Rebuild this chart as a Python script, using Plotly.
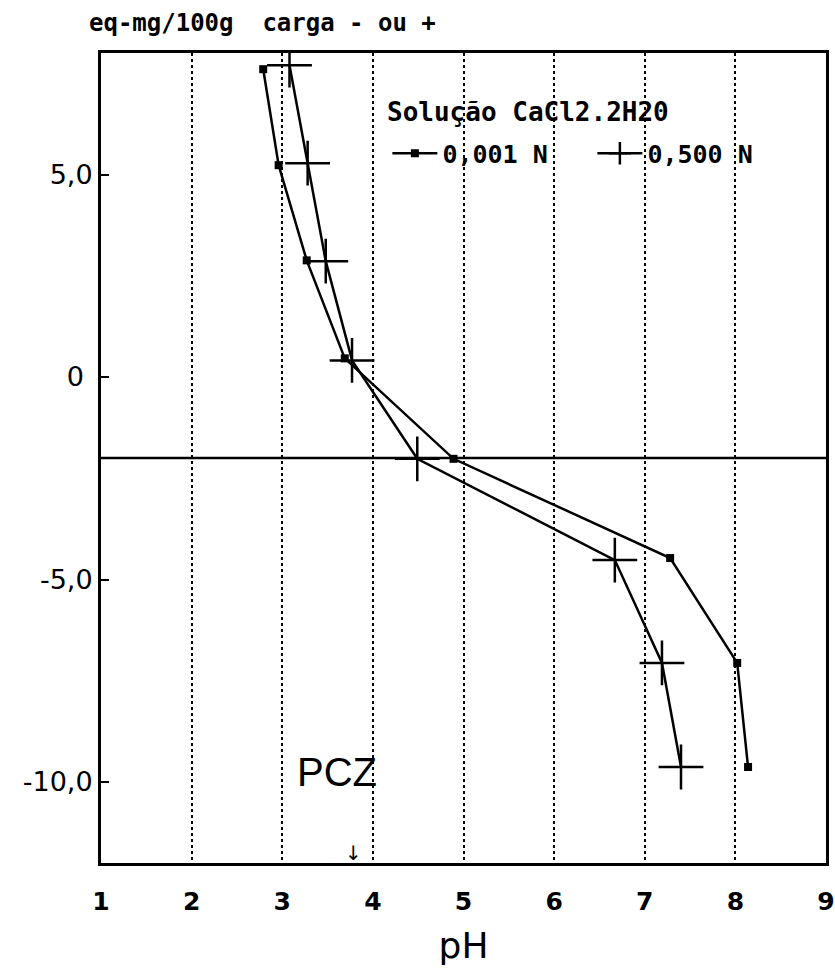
import plotly.graph_objects as go

# ---- data ----
ph_001 = [2.79, 2.96, 3.27, 3.69, 4.89, 7.28, 8.02, 8.14]
carga_001 = [7.60, 5.23, 2.88, 0.46, -2.02, -4.47, -7.06, -9.63]

ph_500 = [3.08, 3.28, 3.48, 3.77, 4.49, 6.67, 7.19, 7.40]
carga_500 = [7.70, 5.28, 2.86, 0.41, -2.02, -4.52, -7.06, -9.63]

series_names = ["0,001 N", "0,500 N"]
legend_title = "Solução CaCl2.2H20"
y_title = "eq-mg/100g  carga - ou +"
x_title = "pH"

x_ticks = [1, 2, 3, 4, 5, 6, 7, 8, 9]
y_tickvals = [5, 0, -5, -10]
y_ticktext = ["5,0", "0\u00a0", "-5,0", "-10,0"]
ref_line = -2
pcz_x, pcz_label_y = 3.60, -9.75
pcz_arrow_x, pcz_arrow_y = 3.79, -11.75

fig = go.Figure()
fig.add_trace(go.Scatter(
    x=ph_001, y=carga_001, mode="lines+markers", name=series_names[0],
    line=dict(color="black", width=2.5),
    marker=dict(symbol="square", size=8, color="black"),
))
fig.add_trace(go.Scatter(
    x=ph_500, y=carga_500, mode="lines+markers", name=series_names[1],
    line=dict(color="black", width=2.5),
    marker=dict(symbol="cross-thin", size=32, color="black",
                line=dict(color="black", width=2.5)),
))

fig.add_hline(y=ref_line, line=dict(color="black", width=2.5))

fig.add_annotation(x=pcz_x, y=pcz_label_y, text="PCZ", showarrow=False,
                   font=dict(family="Liberation Sans", size=40, color="black"))
fig.add_annotation(x=pcz_arrow_x, y=pcz_arrow_y, text="↓", showarrow=False,
                   font=dict(family="DejaVu Sans", size=20, color="black"))
fig.add_annotation(x=-0.02, y=1.0, xref="paper", yref="paper", yanchor="bottom",
                   xanchor="left", yshift=14, text=y_title, showarrow=False,
                   font=dict(family="DejaVu Sans Mono", size=24, color="black",
                             weight="bold"))
fig.add_annotation(x=0.392, y=0.927, xref="paper", yref="paper", yanchor="middle",
                   xanchor="left", text=legend_title, showarrow=False,
                   font=dict(family="DejaVu Sans Mono", size=26, color="black",
                             weight="bold"))

fig.update_xaxes(
    range=[1, 9], tickvals=x_ticks, showgrid=True, griddash="dot",
    gridcolor="black", gridwidth=1.5, showline=True, linecolor="black",
    linewidth=3, mirror=True, ticks="", zeroline=False,
    ticklabelstandoff=14,
    tickfont=dict(family="DejaVu Sans", size=25, color="black", weight="bold"),
    title=dict(text=x_title, standoff=18,
               font=dict(family="DejaVu Sans", size=36, color="black")),
)
fig.update_yaxes(
    range=[-12, 8], tickvals=y_tickvals, ticktext=y_ticktext, showgrid=False,
    showline=True, linecolor="black", linewidth=3, mirror=True,
    ticks="inside", ticklen=8, tickwidth=2, tickcolor="black", zeroline=False,
    tickfont=dict(family="DejaVu Sans", size=27, color="black"),
)

fig.update_layout(
    width=835, height=976,
    margin=dict(l=101, r=9, t=53, b=113, autoexpand=False),
    paper_bgcolor="white", plot_bgcolor="white",
    showlegend=True,
    legend=dict(
        orientation="h", x=0.395, y=0.876, xanchor="left", yanchor="middle",
        bgcolor="rgba(0,0,0,0)", entrywidth=145, itemwidth=45,
        font=dict(family="DejaVu Sans Mono", size=25, color="black", weight="bold"),
    ),
)

fig.write_html("out.html")
